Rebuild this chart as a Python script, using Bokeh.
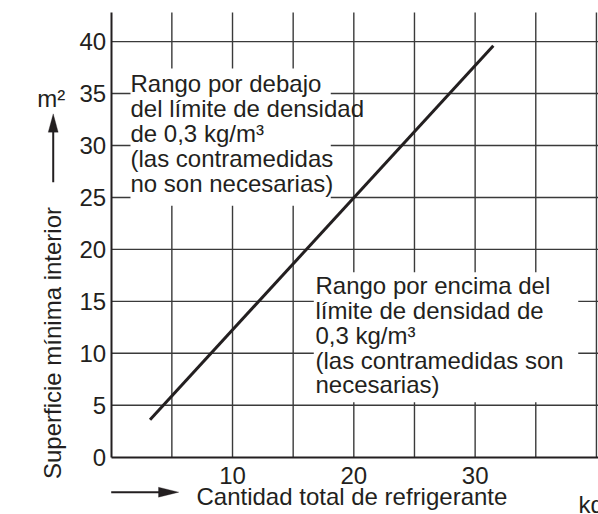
import math
from bokeh.plotting import figure
from bokeh.models import Label, Arrow, PolyAnnotation, FixedTicker
from bokeh.embed import file_html
from bokeh.resources import INLINE

# ---- data ----
line_x = [3.2, 31.5]          # Cantidad total de refrigerante (kg)
line_y = [3.6, 39.6]          # Superficie mínima interior (m2)
x_ticks = [10, 20, 30]
x_grid = [5, 10, 15, 20, 25, 30, 35, 40]
y_ticks = [0, 5, 10, 15, 20, 25, 30, 35, 40]
y_grid = [5, 10, 15, 20, 25, 30, 35, 40]
x_max = 40.17
y_max = 42.8

below_lines = ["Rango por debajo", "del límite de densidad", "de 0,3 kg/m³",
               "(las contramedidas", "no son necesarias)"]
above_lines = ["Rango por encima del", "límite de densidad de", "0,3 kg/m³",
               "(las contramedidas son", "necesarias)"]
y_title = "Superficie mínima interior"
x_title = "Cantidad total de refrigerante"
y_unit = "m²"
x_unit = "kg"

INK = "#231f20"
GRID = "#3a3a3a"
FONT = "Liberation Sans"
FS = "24px"
DY = 0.72   # baseline correction (data units, vertical)
DX = -0.62  # baseline correction for rotated title (data units, horizontal)

p = figure(width=598, height=514, x_range=(-9.126, x_max), y_range=(-5.515, 43.956),
           output_backend="svg", toolbar_location=None, min_border=0)
p.outline_line_color = None
p.background_fill_color = "white"
p.grid.visible = False

# axes at the data origin
p.xaxis.fixed_location = 0
p.yaxis.fixed_location = 0
p.xaxis.bounds = (0, x_max)
p.yaxis.bounds = (0, y_max)
p.xaxis.ticker = FixedTicker(ticks=x_ticks)
p.yaxis.ticker = FixedTicker(ticks=y_ticks)
for ax in (p.xaxis[0], p.yaxis[0]):
    ax.axis_line_color = INK
    ax.axis_line_width = 2
    ax.major_tick_line_color = None
    ax.minor_tick_line_color = None
    ax.major_tick_out = 0
    ax.major_tick_in = 0
    ax.major_label_text_font = FONT
    ax.major_label_text_font_size = FS
    ax.major_label_text_color = INK
p.yaxis.major_label_standoff = 5
p.xaxis.major_label_standoff = 10

# grid lines
p.segment(x0=x_grid, y0=[0] * len(x_grid), x1=x_grid, y1=[y_max] * len(x_grid),
          line_color=GRID, line_width=1.4, level="underlay")
p.segment(x0=[0] * len(y_grid), y0=y_grid, x1=[x_max] * len(y_grid), y1=y_grid,
          line_color=GRID, line_width=1.4, level="underlay")

# white boxes behind the text blocks
p.quad(left=[1.59, 16.7], right=[18.1, 38.5], bottom=[24.2, 5.3], top=[37.4, 17.8],
       fill_color="white", line_color=None)

# the limit line
p.line(line_x, line_y, line_color=INK, line_width=3)

def lab(x, y, t, **kw):
    p.add_layout(Label(x=x, y=y, text=t, text_font=FONT, text_font_size=FS,
                       text_color=INK, text_baseline="alphabetic", **kw))

for i, t in enumerate(below_lines):
    lab(1.59, 35.23 - 2.406 * i + DY, t)
for i, t in enumerate(above_lines):
    lab(16.84, 15.78 - 2.382 * i + DY, t)

# axis titles
lab(-4.18 + DX, 10.99, y_title, angle=math.pi / 2, text_align="center")
lab(-6.1, 33.85 + DY, y_unit)
lab(7.03, -4.49 + DY, x_title)
lab(38.53, -5.32 + DY, x_unit)

# arrows
p.add_layout(Arrow(x_start=-4.78, y_start=26.47, x_end=-4.78, y_end=31.5, end=None,
                   line_color=INK, line_width=2))
p.add_layout(PolyAnnotation(xs=[-4.78, -5.19, -4.37], ys=[33.05, 31.28, 31.28],
                            fill_color=INK, fill_alpha=1, line_color=INK, line_width=1))
p.add_layout(Arrow(x_start=0, y_start=-3.37, x_end=4.0, y_end=-3.37, end=None,
                   line_color=INK, line_width=2))
p.add_layout(PolyAnnotation(xs=[5.57, 3.9, 3.9], ys=[-3.37, -2.89, -3.85],
                            fill_color=INK, fill_alpha=1, line_color=INK, line_width=1))

open("out.html", "w").write(file_html(p, INLINE))
